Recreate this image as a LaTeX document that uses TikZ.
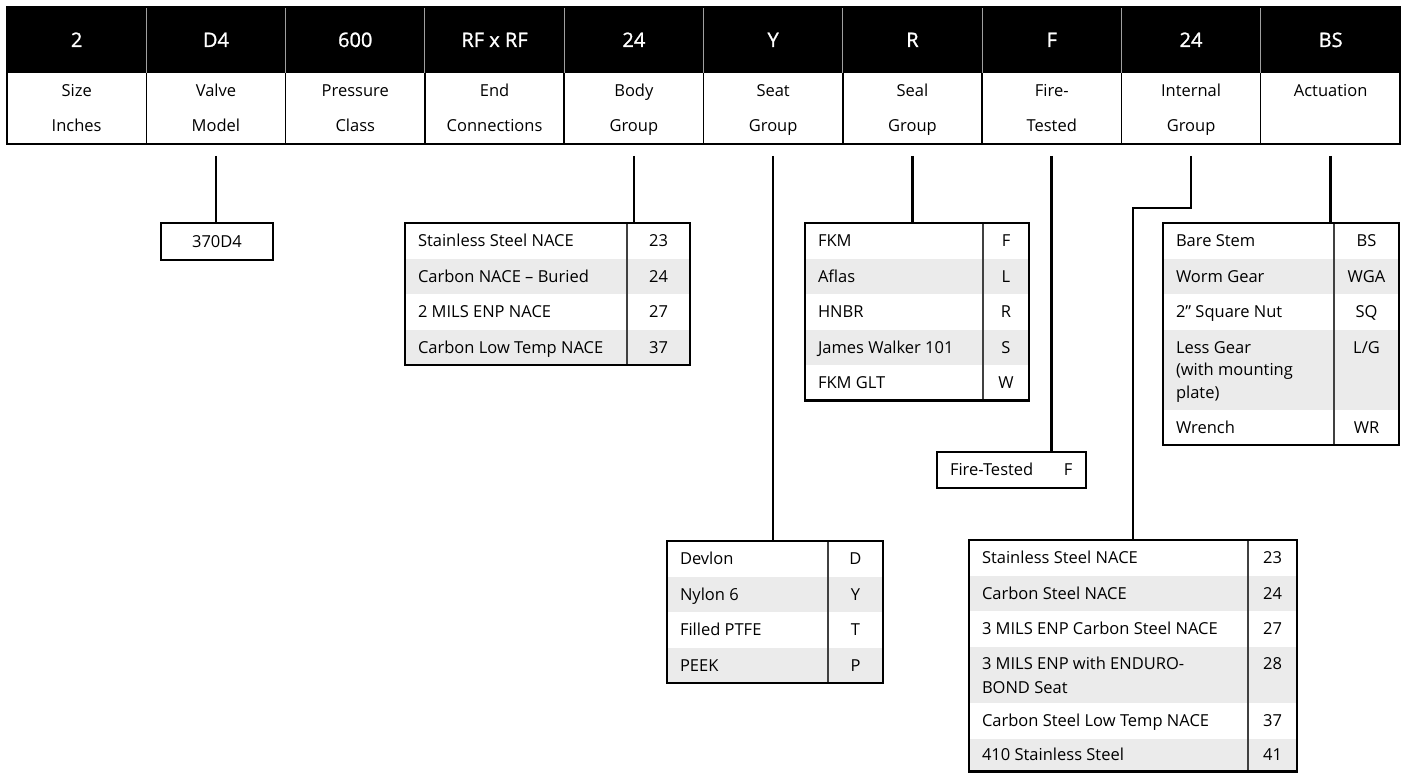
\documentclass[tikz,border=0pt]{standalone}
\usepackage{fontspec}
\setmainfont{Open Sans}
\newfontfamily\hdrfont[FakeBold=1.2]{Open Sans}
\definecolor{rowgray}{HTML}{EBEBEB}
\definecolor{divgray}{HTML}{404040}
\definecolor{banddiv}{HTML}{A0A0A0}
\begin{document}
\begin{tikzpicture}[x=1pt,y=-1pt,
  every node/.style={inner sep=0pt,outer sep=0pt},
  hdr/.style={text=white,font=\hdrfont\fontsize{20}{24}\selectfont,text height=14pt,text depth=0pt},
  sub/.style={font=\fontsize{16.5}{20}\selectfont,text height=11.8pt,text depth=0pt},
  celltxt/.style={anchor=west,font=\fontsize{16.5}{20}\selectfont,text height=11.8pt,text depth=0pt},
  codetxt/.style={font=\fontsize{16.5}{20}\selectfont,text height=11.8pt,text depth=0pt},
  frame/.style={draw=black,line width=2.4pt,anchor=north west},
  coldiv/.style={draw=divgray,line width=1.4pt},
  conn/.style={draw=black,line width=2.6pt,line join=miter}]

\useasboundingbox (0,0) rectangle (1406,773);

% ---------------- header ----------------
\fill[black] (7,7) rectangle (1400,73);
\foreach \k in {1,...,9} {
  \pgfmathsetmacro\xx{7+139.3*\k}
  \draw[line width=1pt,draw=banddiv] (\xx,7) -- (\xx,73);
  \draw[line width=1.5pt] (\xx,73) -- (\xx,144);
}
\draw[line width=2.2pt] (7,7) rectangle (1400,144);

\foreach [count=\k] \a/\b/\c in {2/Size/Inches, D4/Valve/Model, 600/Pressure/Class,
   RF x RF/End/Connections, 24/Body/Group, Y/Seat/Group, R/Seal/Group,
   F/Fire-/Tested, 24/Internal/Group} {
  \pgfmathsetmacro\xx{7+139.3*(\k-0.5)}
  \node[hdr] (h\k) at (\xx,40) {\a};
  \node[sub] (sa\k) at (\xx,91) {\b};
  \node[sub] (sb\k) at (\xx,126) {\c};
}
\node[hdr] (h10) at (1330.65,40) {BS};
\node[sub] (sa10) at (1330.65,91) {Actuation};

% connector start points
\foreach \k in {2,5,6,7,8,9,10} {
  \pgfmathsetmacro\xx{7+139.3*(\k-0.5)}
  \coordinate (k\k) at (\xx,156);
}

% ---------------- valve model ----------------
\node[frame,minimum width=112pt,minimum height=37pt] (modelT) at (161,223) {};
\node[codetxt] (mt) at (217,241.5) {370D4};

% ---------------- body group ----------------
\foreach [count=\i] \t/\c in {Stainless Steel NACE/23, Carbon NACE – Buried/24,
   2 MILS ENP NACE/27, Carbon Low Temp NACE/37} {
  \pgfmathsetmacro\yy{223+(\i-1)*35.5}
  \ifodd\i\else\fill[rowgray] (405,\yy) rectangle (690,\yy+35.5);\fi
  \node[celltxt] (bt\i) at (418,\yy+17.75) {\t};
  \node[codetxt] (bc\i) at (658.5,\yy+17.75) {\c};
}
\draw[coldiv] (627,223) -- (627,365);
\node[frame,minimum width=285pt,minimum height=142pt] (bodyT) at (405,223) {};

% ---------------- seal group ----------------
\foreach [count=\i] \t/\c in {FKM/F, Aflas/L, HNBR/R, James Walker 101/S, FKM GLT/W} {
  \pgfmathsetmacro\yy{223+(\i-1)*35.5}
  \ifodd\i\else\fill[rowgray] (805,\yy) rectangle (1029,\yy+35.5);\fi
  \node[celltxt] (lt\i) at (818,\yy+17.75) {\t};
  \node[codetxt] (lc\i) at (1006,\yy+17.75) {\c};
}
\draw[coldiv] (983,223) -- (983,400.5);
\node[frame,minimum width=224pt,minimum height=177.5pt] (sealT) at (805,223) {};

% ---------------- seat group ----------------
\foreach [count=\i] \t/\c in {Devlon/D, Nylon 6/Y, Filled PTFE/T, PEEK/P} {
  \pgfmathsetmacro\yy{541+(\i-1)*35.5}
  \ifodd\i\else\fill[rowgray] (667,\yy) rectangle (883,\yy+35.5);\fi
  \node[celltxt] (st\i) at (680,\yy+17.75) {\t};
  \node[codetxt] (sc\i) at (855.5,\yy+17.75) {\c};
}
\draw[coldiv] (828,541) -- (828,683);
\node[frame,minimum width=216pt,minimum height=142pt] (seatT) at (667,541) {};

% ---------------- fire tested ----------------
\node[frame,minimum width=149pt,minimum height=36pt] (fireT) at (937,452) {};
\node[celltxt] (ft) at (950,470) {Fire-Tested};
\node[codetxt] (fc) at (1068,470) {F};

% ---------------- actuation ----------------
\fill[rowgray] (1163,258.5) rectangle (1399,294);
\fill[rowgray] (1163,329.5) rectangle (1399,409.5);
\node[celltxt] (at1) at (1176,240.75) {Bare Stem};
\node[codetxt] (ac1) at (1366.5,240.75) {BS};
\node[celltxt] (at2) at (1176,276.25) {Worm Gear};
\node[codetxt] (ac2) at (1366.5,276.25) {WGA};
\node[celltxt] (at3) at (1176,311.75) {2” Square Nut};
\node[codetxt] (ac3) at (1366.5,311.75) {SQ};
\node[celltxt] (at4a) at (1176,347.5) {Less Gear};
\node[celltxt] (at4b) at (1176,370) {(with mounting};
\node[celltxt] (at4c) at (1176,392.5) {plate)};
\node[codetxt] (ac4) at (1366.5,347.5) {L/G};
\node[celltxt] (at5) at (1176,427.25) {Wrench};
\node[codetxt] (ac5) at (1366.5,427.25) {WR};
\draw[coldiv] (1334,223) -- (1334,445);
\node[frame,minimum width=236pt,minimum height=222pt] (actT) at (1163,223) {};

% ---------------- internal group ----------------
\fill[rowgray] (969,575.5) rectangle (1297,611);
\fill[rowgray] (969,646.5) rectangle (1297,703);
\fill[rowgray] (969,738.5) rectangle (1297,771.5);
\node[celltxt] (it1) at (982,557.75) {Stainless Steel NACE};
\node[codetxt] (ic1) at (1272.5,557.75) {23};
\node[celltxt] (it2) at (982,593.25) {Carbon Steel NACE};
\node[codetxt] (ic2) at (1272.5,593.25) {24};
\node[celltxt] (it3) at (982,628.75) {3 MILS ENP Carbon Steel NACE};
\node[codetxt] (ic3) at (1272.5,628.75) {27};
\node[celltxt] (it4a) at (982,664) {3 MILS ENP with ENDURO-};
\node[celltxt] (it4b) at (982,688) {BOND Seat};
\node[codetxt] (ic4) at (1272.5,664) {28};
\node[celltxt] (it5) at (982,720.75) {Carbon Steel Low Temp NACE};
\node[codetxt] (ic5) at (1272.5,720.75) {37};
\node[celltxt] (it6) at (982,755) {410 Stainless Steel};
\node[codetxt] (ic6) at (1272.5,755) {41};
\draw[coldiv] (1248,540) -- (1248,771.5);
\node[frame,minimum width=328pt,minimum height=231.5pt] (intT) at (969,540) {};

% ---------------- connectors ----------------
\draw[conn] (k2) -- (k2 |- modelT.north);
\draw[conn] (k5) -- (k5 |- bodyT.north);
\draw[conn] (k6) -- (k6 |- seatT.north);
\draw[conn] (k7) -- (k7 |- sealT.north);
\draw[conn] (k8) -- (k8 |- fireT.north);
\coordinate (ib) at (1133,208);
\draw[conn] (k9) |- (ib) -- (ib |- intT.north);
\draw[conn] (k10) -- (k10 |- actT.north);
\end{tikzpicture}
\end{document}
